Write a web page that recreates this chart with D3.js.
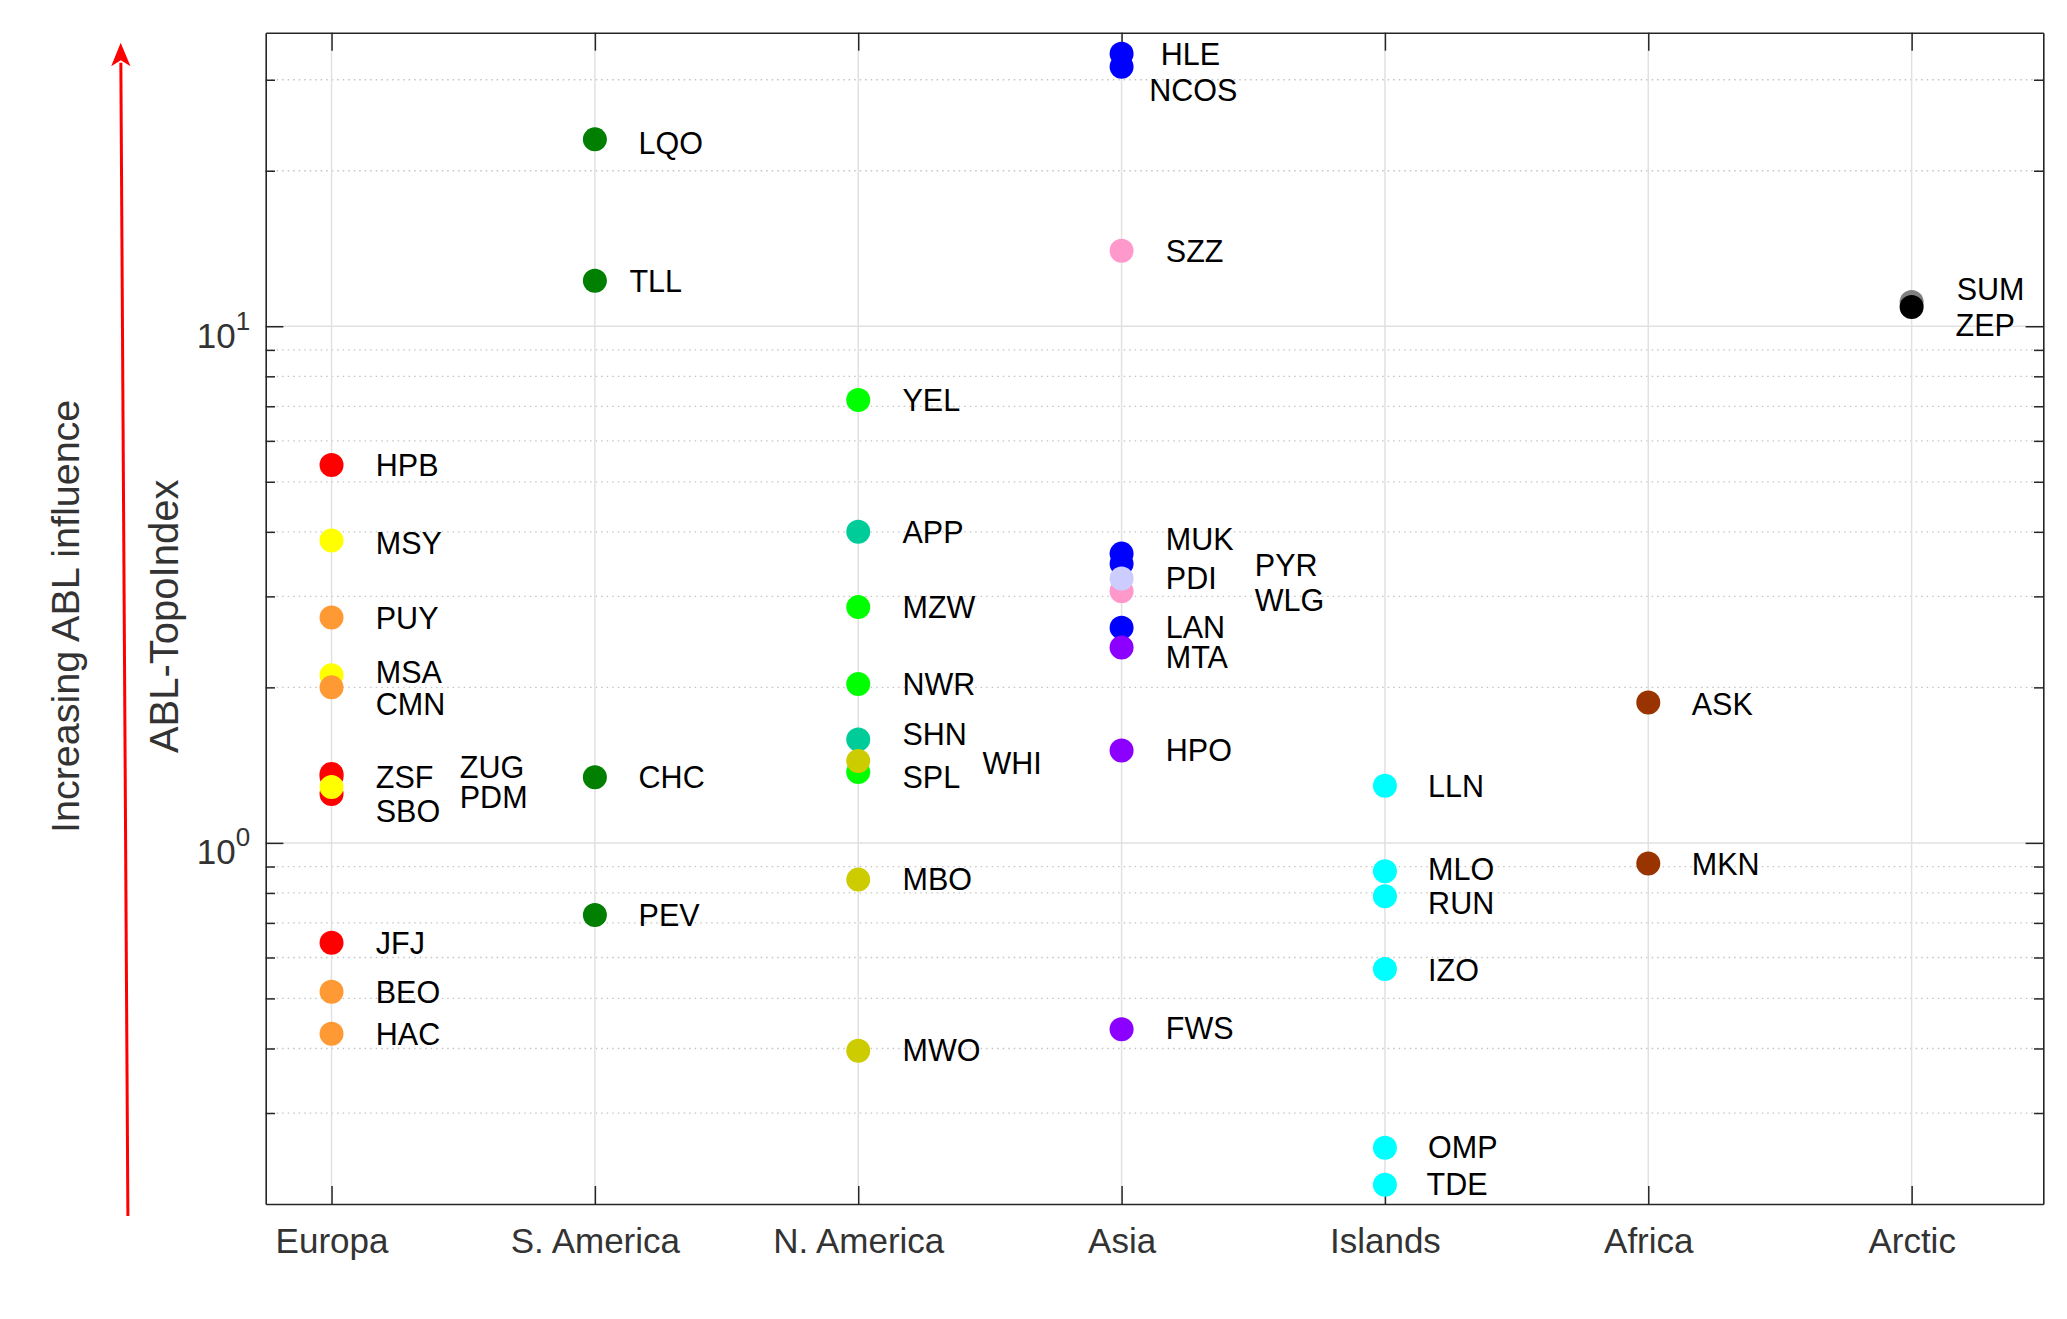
<!DOCTYPE html>
<html>
<head>
<meta charset="utf-8">
<script src="https://cdn.jsdelivr.net/npm/d3@7"></script>
<style>
  body { margin: 0; background: #fff; }
  svg { display: block; }
  text { font-family: "Liberation Sans", Arial, Helvetica, sans-serif; }
</style>
</head>
<body>
<svg id="chart" width="2067" height="1319"></svg>
<script>
// ---------------- DATA ----------------
const categories = ["Europa", "S. America", "N. America", "Asia", "Islands", "Africa", "Arctic"];

// stations in drawing order
const stationNames = [
  "HPB","MSY","PUY","MSA","CMN","ZSF","SBO","ZUG","PDM","JFJ","BEO","HAC",
  "LQO","TLL","CHC","PEV",
  "YEL","APP","MZW","NWR","SHN","SPL","WHI","MBO","MWO",
  "HLE","NCOS","SZZ","MUK","PYR","WLG","PDI","LAN","MTA","HPO","FWS",
  "LLN","MLO","RUN","IZO","OMP","TDE",
  "ASK","MKN",
  "SUM","ZEP"
];
const stationRegion = [
  1,1,1,1,1,1,1,1,1,1,1,1,
  2,2,2,2,
  3,3,3,3,3,3,3,3,3,
  4,4,4,4,4,4,4,4,4,4,4,
  5,5,5,5,5,5,
  6,6,
  7,7
];
const topoIndex = [
  5.39,3.85,2.73,2.11,2.00,1.36,1.243,1.345,1.283,0.641,0.515,0.427,
  23.0,12.25,1.34,0.725,
  7.2,4.0,2.86,2.03,1.585,1.372,1.441,0.849,0.396,
  33.7,31.8,14.0,3.63,3.47,3.07,3.25,2.61,2.39,1.51,0.436,
  1.29,0.881,0.788,0.570,0.257,0.218,
  1.87,0.912,
  11.14,10.9
];
// text label anchor in data units (category offset, index value)
const labelOffset = [
  0.168,0.168,0.168,0.168,0.168,0.168,0.168,0.487,0.487,0.168,0.168,0.168,
  0.166,0.131,0.166,0.166,
  0.168,0.168,0.168,0.168,0.168,0.168,0.472,0.168,0.168,
  0.149,0.105,0.168,0.168,0.506,0.506,0.168,0.168,0.168,0.168,0.168,
  0.164,0.164,0.164,0.164,0.164,0.158,
  0.165,0.165,
  0.171,0.167
];
const labelValue = [
  5.39,3.81,2.73,2.14,1.86,1.342,1.155,1.403,1.228,0.641,0.515,0.427,
  22.6,12.25,1.34,0.725,
  7.2,4.0,2.86,2.03,1.628,1.342,1.43,0.852,0.398,
  33.7,28.6,14.0,3.88,3.45,2.95,3.25,2.62,2.29,1.51,0.438,
  1.29,0.891,0.765,0.568,0.258,0.219,
  1.859,0.909,
  11.83,10.04
];

const yMajorTicks = [1, 10];
const yTickExponents = ["0", "1"];
const yMinorTicks = [0.3,0.4,0.5,0.6,0.7,0.8,0.9,2,3,4,5,6,7,8,9,20,30];
const yDomain = [0.2, 37];
const xDomain = [0.75, 7.5];
const yAxisTitle = "ABL-TopoIndex";
const arrowTitle = "Increasing ABL influence";

// ---------------- STYLE ----------------
const stationColor = {
  HPB:"#ff0000", MSY:"#ffff00", PUY:"#ff9933", MSA:"#ffff00", CMN:"#ff9933",
  ZSF:"#ff0000", SBO:"#ff0000", ZUG:"#ff0000", PDM:"#ffff00", JFJ:"#ff0000",
  BEO:"#ff9933", HAC:"#ff9933",
  LQO:"#007f00", TLL:"#007f00", CHC:"#007f00", PEV:"#007f00",
  YEL:"#00ff00", APP:"#00cc99", MZW:"#00ff00", NWR:"#00ff00", SHN:"#00cc99",
  SPL:"#00ff00", WHI:"#cccc00", MBO:"#cccc00", MWO:"#cccc00",
  HLE:"#0000ff", NCOS:"#0000ff", SZZ:"#ff99cc", MUK:"#0000ff", PYR:"#0000ff",
  WLG:"#ff99cc", PDI:"#ccccff", LAN:"#0000ff", MTA:"#8c00ff", HPO:"#8c00ff", FWS:"#8c00ff",
  LLN:"#00ffff", MLO:"#00ffff", RUN:"#00ffff", IZO:"#00ffff", OMP:"#00ffff", TDE:"#00ffff",
  ASK:"#993300", MKN:"#993300",
  SUM:"#808080", ZEP:"#000000"
};
const axisColor = "#262626";
const tickTextColor = "#333333";
const fontFam = '"Liberation Sans", Arial, Helvetica, sans-serif';

// ---------------- LAYOUT ----------------
const W = 2067, H = 1319;
const plot = { left: 265.7, right: 2043.3, top: 32.7, bottom: 1204 };

const svg = d3.select("#chart");
svg.append("rect").attr("width", W).attr("height", H).attr("fill", "#fff");

const x = d3.scaleLinear().domain(xDomain).range([plot.left, plot.right]);
const y = d3.scaleLog().domain(yDomain).range([plot.bottom, plot.top]);
const catTicks = categories.map((c, i) => i + 1);

// grid
const grid = svg.append("g");
grid.selectAll("line.minor").data(yMinorTicks).join("line")
  .attr("x1", plot.left).attr("x2", plot.right)
  .attr("y1", d => y(d)).attr("y2", d => y(d))
  .attr("stroke", "#c4c4c4").attr("stroke-width", 1.3)
  .attr("stroke-dasharray", "1.5,4");
grid.selectAll("line.hmajor").data(yMajorTicks).join("line")
  .attr("x1", plot.left).attr("x2", plot.right)
  .attr("y1", d => y(d)).attr("y2", d => y(d))
  .attr("stroke", "#e1e1e1").attr("stroke-width", 1.5);
grid.selectAll("line.vmajor").data(catTicks).join("line")
  .attr("x1", d => x(d)).attr("x2", d => x(d))
  .attr("y1", plot.top).attr("y2", plot.bottom)
  .attr("stroke", "#e1e1e1").attr("stroke-width", 1.5);

// axes
function styleAxis(g) {
  g.selectAll("path.domain").attr("stroke", axisColor).attr("stroke-width", 1.6);
  g.selectAll(".tick line").attr("stroke", axisColor).attr("stroke-width", 1.5);
}

// left major
const gLeft = svg.append("g").attr("transform", `translate(${plot.left},0)`)
  .call(d3.axisLeft(y).tickValues(yMajorTicks).tickSizeInner(-17.7).tickSizeOuter(0).tickPadding(15.5))
  .call(styleAxis);
gLeft.selectAll(".tick text").each(function(d, i) {
  const t = d3.select(this);
  t.text(null).attr("dy", null).attr("y", 21)
    .attr("fill", tickTextColor).attr("font-size", 35).attr("text-anchor", "end")
    .attr("font-family", fontFam);
  t.append("tspan").text("10");
  t.append("tspan").attr("dy", -18).attr("font-size", 26).text(yTickExponents[i]);
});
// left minor
svg.append("g").attr("transform", `translate(${plot.left},0)`)
  .call(d3.axisLeft(y).tickValues(yMinorTicks).tickSizeInner(-9.3).tickSizeOuter(0).tickFormat(""))
  .call(styleAxis).call(g => g.select(".domain").remove());

// right major + minor
svg.append("g").attr("transform", `translate(${plot.right},0)`)
  .call(d3.axisRight(y).tickValues(yMajorTicks).tickSizeInner(-17.7).tickSizeOuter(0).tickFormat(""))
  .call(styleAxis);
svg.append("g").attr("transform", `translate(${plot.right},0)`)
  .call(d3.axisRight(y).tickValues(yMinorTicks).tickSizeInner(-9.3).tickSizeOuter(0).tickFormat(""))
  .call(styleAxis).call(g => g.select(".domain").remove());

// top
svg.append("g").attr("transform", `translate(0,${plot.top})`)
  .call(d3.axisTop(x).tickValues(catTicks).tickSizeInner(-18).tickSizeOuter(0).tickFormat(""))
  .call(styleAxis);

// bottom
const gBottom = svg.append("g").attr("transform", `translate(0,${plot.bottom})`)
  .call(d3.axisBottom(x).tickValues(catTicks).tickSizeInner(-18).tickSizeOuter(0)
    .tickPadding(24).tickFormat(d => categories[d - 1]))
  .call(styleAxis);
gBottom.selectAll(".tick text").attr("font-size", 35).attr("fill", tickTextColor)
  .attr("font-family", fontFam);

// points
const pts = stationNames.map((n, i) => ({
  name: n, region: stationRegion[i], value: topoIndex[i],
  lx: stationRegion[i] + labelOffset[i], ly: labelValue[i]
}));

svg.append("g").selectAll("circle").data(pts).join("circle")
  .attr("cx", d => x(d.region))
  .attr("cy", d => y(d.value))
  .attr("r", 12)
  .attr("fill", d => stationColor[d.name]);

svg.append("g").selectAll("text").data(pts).join("text")
  .attr("x", d => x(d.lx))
  .attr("y", d => y(d.ly))
  .attr("dy", "0.36em")
  .attr("font-size", 30.5)
  .attr("fill", "#000")
  .text(d => d.name);

// axis titles
const midY = (plot.top + plot.bottom) / 2 - 2;
svg.append("text")
  .attr("transform", `translate(163.3,${midY}) rotate(-90)`)
  .attr("text-anchor", "middle").attr("dy", "0.36em")
  .attr("font-size", 40).attr("fill", tickTextColor)
  .text(yAxisTitle);

svg.append("text")
  .attr("transform", `translate(65,${midY}) rotate(-90)`)
  .attr("text-anchor", "middle").attr("dy", "0.36em")
  .attr("font-size", 39.5).attr("fill", tickTextColor)
  .text(arrowTitle);

// arrow annotation
const arrow = { x0: 127.9, y0: 1216, x1: 120.7, y1: 42.7 };
svg.append("line")
  .attr("x1", arrow.x0).attr("y1", arrow.y0)
  .attr("x2", arrow.x1 + 0.15).attr("y2", arrow.y1 + 20)
  .attr("stroke", "#ff0000").attr("stroke-width", 3);
svg.append("path")
  .attr("d", `M${arrow.x1},${arrow.y1} L${arrow.x1 - 9.5},${arrow.y1 + 23.5} L${arrow.x1 + 0.15},${arrow.y1 + 17.5} L${arrow.x1 + 9.8},${arrow.y1 + 23.5} Z`)
  .attr("fill", "#ff0000");
</script>
</body>
</html>
